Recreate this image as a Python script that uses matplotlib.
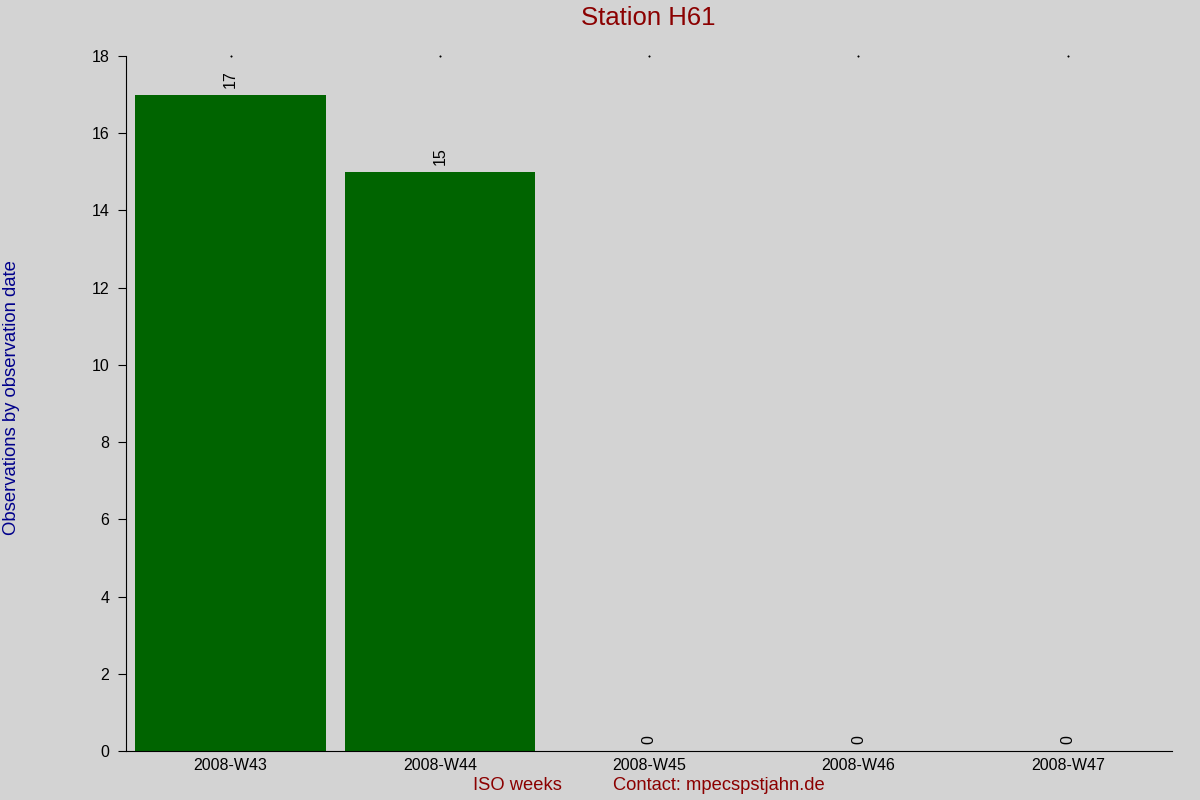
import matplotlib.pyplot as plt

plt.rcParams["font.family"] = ["Liberation Sans", "DejaVu Sans"]

weeks = ["2008-W43", "2008-W44", "2008-W45", "2008-W46", "2008-W47"]
counts = [17, 15, 0, 0, 0]

bg = "#d3d3d3"
fig = plt.figure(figsize=(12, 8), dpi=100, facecolor=bg)
ax = fig.add_axes([0.105, 0.06125, 0.872, 0.86875], facecolor=bg)

x = list(range(len(weeks)))
ax.bar(x, counts, width=0.91, color="#006400")

for xi, c in zip(x, counts):
    ax.annotate(str(c), (xi, c), xytext=(0, 5), textcoords="offset points",
                rotation=90, ha="center", va="bottom", fontsize=11.5)

ax.set_xlim(-0.5, len(weeks) - 0.5)
ax.set_ylim(0, 18)
ax.set_yticks(range(0, 19, 2))
ax.set_xticks(x)
ax.set_xticklabels(weeks, fontsize=11.5)
ax.tick_params(axis="x", length=0, pad=5)
ax.tick_params(axis="y", length=6, labelsize=11.5, direction="out", pad=6)

for s in ["top", "right"]:
    ax.spines[s].set_visible(False)

# tiny markers along the top edge
ax.plot(x, [18] * len(x), ls="none", marker="s", ms=0.5, color="black", clip_on=False)

fig.text(0.54, 0.993, "Station H61", color="#8b0000", fontsize=18.5, ha="center", va="top")
fig.text(0.01, 0.503, "Observations by observation date", color="#00008b",
         fontsize=13.3, rotation=90, ha="center", va="center")
fig.text(0.431, 0.018, "ISO weeks", color="#8b0000", fontsize=13.2, ha="center", va="center")
fig.text(0.511, 0.018, "Contact: mpecspstjahn.de", color="#8b0000", fontsize=13.2,
         ha="left", va="center")

fig.savefig("out.png", dpi=100, facecolor=bg)
